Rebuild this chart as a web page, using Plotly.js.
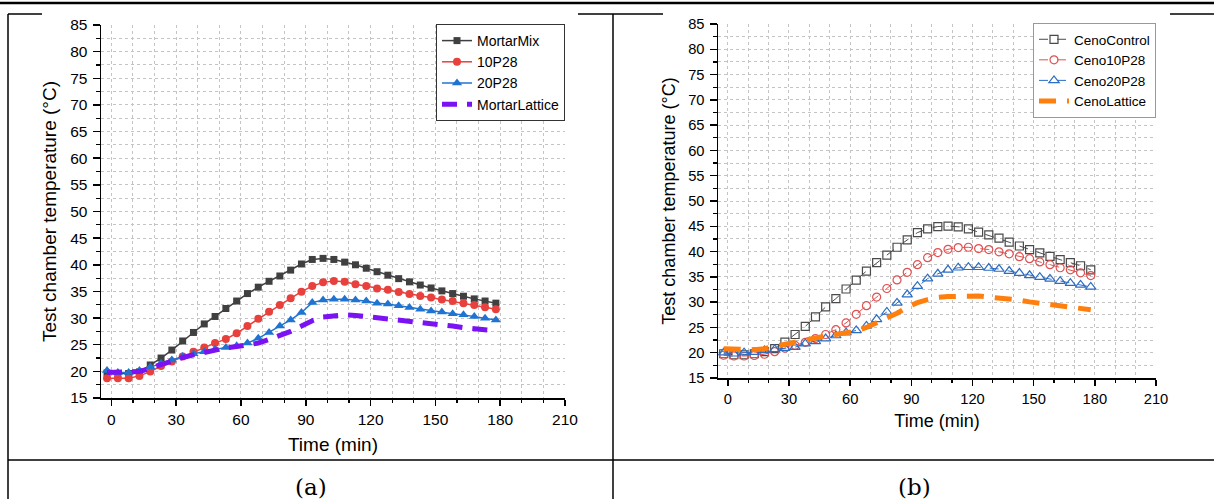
<!DOCTYPE html>
<html><head><meta charset="utf-8">
<script src="https://cdn.plot.ly/plotly-3.0.1.min.js"></script>
<style>html,body{margin:0;padding:0;background:#fff;} #chart{width:1214px;height:499px;}</style>
</head><body><div id="chart"></div>
<script>
// ---- data ----
const timeMin = [-2,3,8,13,18,23,28,33,38,43,48,53,58,63,68,73,78,83,88,93,98,103,108,113,118,123,128,133,138,143,148,153,158,163,168,173,178];

const mortarMix = [19.7,19.6,19.6,19.9,21.2,22.5,24.0,25.7,27.3,28.9,30.3,31.8,33.2,34.6,35.8,36.9,37.9,39.0,40.15,41.0,41.2,41.0,40.5,40.0,39.35,38.7,38.05,37.4,36.8,36.2,35.65,35.1,34.6,34.1,33.6,33.2,32.8];
const p10P28 = [18.7,18.7,18.7,19.15,19.95,21.0,21.85,22.8,23.7,24.5,25.3,26.05,27.15,28.5,29.85,31.2,32.45,33.7,34.95,36.0,36.7,36.95,36.8,36.35,36.0,35.55,35.3,34.9,34.5,34.15,33.85,33.5,33.2,32.8,32.45,32.05,31.65];
const p20P28 = [20.15,19.8,19.8,20.15,20.8,21.5,22.15,22.8,23.3,23.7,24.15,24.5,24.8,25.3,26.2,27.3,28.5,29.65,31.05,32.9,33.4,33.55,33.55,33.4,33.2,32.8,32.65,32.3,32.0,31.65,31.35,31.15,30.8,30.6,30.3,29.95,29.65];
const mortarLattice = [19.8,19.8,19.8,19.95,20.6,21.3,22.0,22.6,23.1,23.6,24.0,24.4,24.65,24.9,25.3,26.0,26.7,27.5,28.5,29.5,30.2,30.5,30.6,30.5,30.3,30.1,29.85,29.65,29.4,29.15,28.9,28.7,28.5,28.2,28.05,27.85,27.6];

const cenoControl = [19.8,19.6,19.6,19.8,20.2,20.8,22.1,23.6,25.2,27.1,29.05,30.7,32.6,34.35,36.15,37.8,39.3,40.85,42.3,43.75,44.5,44.95,45.05,44.9,44.5,43.85,43.3,42.65,41.85,41.1,40.4,39.75,39.05,38.4,37.8,37.2,36.4];
const ceno10P28 = [19.5,19.35,19.35,19.45,19.7,20.2,20.9,21.45,22.05,22.8,23.6,24.55,25.9,27.6,29.3,31.0,32.7,34.4,35.9,37.4,38.8,39.8,40.45,40.8,40.85,40.6,40.4,39.95,39.55,39.0,38.6,37.95,37.4,36.8,36.4,35.8,35.25];
const ceno20P28 = [20.0,19.8,20.0,20.1,20.45,20.65,20.9,21.1,21.8,22.25,22.8,23.4,23.95,24.4,25.3,26.6,28.05,29.85,31.5,33.15,34.65,35.6,36.4,36.8,36.9,36.9,36.75,36.55,36.15,35.75,35.3,34.95,34.6,34.15,33.75,33.4,33.0];
const cenoLattice = [20.8,20.7,20.6,20.6,20.8,21.3,21.7,22.1,22.5,23.0,23.3,23.6,23.9,24.3,25.0,25.9,26.8,27.8,29.0,29.9,30.5,30.95,31.1,31.2,31.2,31.2,31.0,30.85,30.7,30.4,30.05,29.8,29.6,29.4,29.15,28.85,28.5];

const xTitle = 'Time (min)';
const yTitle = 'Test chamber temperature (°C)';
const panelLabels = ['(a)', '(b)'];

// ---- layout helpers ----
const W = 1214, H = 499;
const px = v => v / W;
const py = v => 1 - v / H;
const FONT = '"Liberation Sans", Arial, sans-serif';
const GRID = '#c4c4c4';

function xAxis(anchor, x0, x1, fs, tfs, so) {
  return {
    domain: [px(x0), px(x1)], anchor: anchor, range: [-4.8, 210],
    tickmode: 'linear', tick0: 0, dtick: 30,
    ticks: 'outside', ticklen: 6, tickwidth: 1.5, tickcolor: '#000',
    showline: true, linecolor: '#000', linewidth: 1.5, zeroline: false,
    showgrid: true, gridcolor: GRID, griddash: 'dot', gridwidth: 1,
    minor: {tick0: 0, dtick: 10, ticks: 'outside', ticklen: 3.5, tickwidth: 1.2, tickcolor: '#000',
            showgrid: true, gridcolor: GRID, griddash: 'dot', gridwidth: 1},
    tickfont: {family: FONT, size: fs, color: '#000'}, ticklabelstandoff: 1,
    title: {text: xTitle, font: {family: FONT, size: tfs, color: '#000'}, standoff: so},
    automargin: false, fixedrange: true
  };
}
function yAxis(anchor, y0, y1, fs, tfs) {
  return {
    domain: [py(y1), py(y0)], anchor: anchor, range: [15, 85],
    tickmode: 'linear', tick0: 15, dtick: 5,
    ticks: 'outside', ticklen: 7, tickwidth: 1.5, tickcolor: '#000',
    showline: true, linecolor: '#000', linewidth: 1.5, zeroline: false,
    showgrid: true, gridcolor: GRID, griddash: 'dot', gridwidth: 1,
    minor: {tick0: 15, dtick: 2.5, ticks: 'outside', ticklen: 4, tickwidth: 1.2, tickcolor: '#000',
            showgrid: true, gridcolor: GRID, griddash: 'dot', gridwidth: 1},
    tickfont: {family: FONT, size: fs, color: '#000'}, ticklabelstandoff: 2,
    title: {text: yTitle, font: {family: FONT, size: tfs, color: '#000'}, standoff: 8},
    automargin: false, fixedrange: true
  };
}

const traces = [
  {x: timeMin, y: mortarMix, name: 'MortarMix', xaxis: 'x', yaxis: 'y', mode: 'lines+markers',
   line: {color: '#404040', width: 1.5}, marker: {symbol: 'square', size: 7, color: '#404040'}},
  {x: timeMin, y: p10P28, name: '10P28', xaxis: 'x', yaxis: 'y', mode: 'lines+markers',
   line: {color: '#e8403c', width: 1.5}, marker: {symbol: 'circle', size: 8, color: '#e8403c'}},
  {x: timeMin, y: p20P28, name: '20P28', xaxis: 'x', yaxis: 'y', mode: 'lines+markers',
   line: {color: '#1f74d2', width: 1.5}, marker: {symbol: 'triangle-up', size: 9, color: '#1f74d2'}},
  {x: timeMin, y: mortarLattice, name: 'MortarLattice', xaxis: 'x', yaxis: 'y', mode: 'lines',
   line: {color: '#7b12f4', width: 5, dash: '15px,10px'}},

  {x: timeMin, y: cenoControl, name: 'CenoControl', xaxis: 'x2', yaxis: 'y2', mode: 'lines+markers', legend: 'legend2',
   line: {color: '#4a4a4a', width: 1, dash: 'dash'}, marker: {symbol: 'square-open', size: 8, color: '#4a4a4a', line: {width: 1.2}}},
  {x: timeMin, y: ceno10P28, name: 'Ceno10P28', xaxis: 'x2', yaxis: 'y2', mode: 'lines+markers', legend: 'legend2',
   line: {color: '#e05050', width: 1, dash: 'dash'}, marker: {symbol: 'circle-open', size: 8, color: '#e05050', line: {width: 1.2}}},
  {x: timeMin, y: ceno20P28, name: 'Ceno20P28', xaxis: 'x2', yaxis: 'y2', mode: 'lines+markers', legend: 'legend2',
   line: {color: '#2b6cc4', width: 1, dash: 'dash'}, marker: {symbol: 'triangle-up-open', size: 9, color: '#2b6cc4', line: {width: 1.2}}},
  {x: timeMin, y: cenoLattice, name: 'CenoLattice', xaxis: 'x2', yaxis: 'y2', mode: 'lines', legend: 'legend2',
   line: {color: '#ff7f0e', width: 5, dash: '17px,11px'}}
];

const blk = {color: '#000', width: 1.5};
const shapes = [
  {type: 'line', xref: 'paper', yref: 'paper', x0: 0, x1: 1, y0: py(3), y1: py(3), line: {color: '#000', width: 2.5}},
  {type: 'line', xref: 'paper', yref: 'paper', x0: px(8), x1: px(42), y0: py(14), y1: py(14), line: blk},
  {type: 'line', xref: 'paper', yref: 'paper', x0: px(578), x1: px(663), y0: py(14), y1: py(14), line: blk},
  {type: 'line', xref: 'paper', yref: 'paper', x0: px(1170), x1: 1, y0: py(14), y1: py(14), line: blk},
  {type: 'line', xref: 'paper', yref: 'paper', x0: px(8), x1: px(8), y0: py(14), y1: 0, line: blk},
  {type: 'line', xref: 'paper', yref: 'paper', x0: px(613), x1: px(613), y0: py(14), y1: 0, line: blk},
  {type: 'line', xref: 'paper', yref: 'paper', x0: px(8), x1: 1, y0: py(460), y1: py(460), line: blk}
];

const annotations = [
  {text: panelLabels[0], xref: 'paper', yref: 'paper', x: px(311), y: py(487), xanchor: 'center', yanchor: 'middle',
   showarrow: false, font: {family: '"DejaVu Serif", serif', size: 23, color: '#000'}},
  {text: panelLabels[1], xref: 'paper', yref: 'paper', x: px(914), y: py(487), xanchor: 'center', yanchor: 'middle',
   showarrow: false, font: {family: '"DejaVu Serif", serif', size: 23, color: '#000'}}
];

const layout = {
  width: W, height: H, margin: {l: 0, r: 0, t: 0, b: 0},
  paper_bgcolor: '#fff', plot_bgcolor: '#fff',
  font: {family: FONT, color: '#000'},
  xaxis: xAxis('y', 101, 565, 15.5, 19, 10),
  yaxis: yAxis('x', 25, 398, 15.5, 19),
  xaxis2: xAxis('y2', 718, 1156, 14.7, 18, 8),
  yaxis2: yAxis('x2', 24, 378, 14.7, 18),
  showlegend: true,
  legend: {x: px(565), xanchor: 'right', y: py(24), yanchor: 'top', bgcolor: '#fff',
           bordercolor: '#333', borderwidth: 1, font: {family: FONT, size: 14, color: '#000'}, tracegroupgap: 0},
  legend2: {x: px(1156), xanchor: 'right', y: py(23), yanchor: 'top', bgcolor: '#fff',
           bordercolor: '#999', borderwidth: 1, font: {family: FONT, size: 13.5, color: '#000'}, tracegroupgap: 0},
  shapes: shapes,
  annotations: annotations
};

Plotly.newPlot('chart', traces, layout, {staticPlot: true, displayModeBar: false});
</script>
</body></html>
